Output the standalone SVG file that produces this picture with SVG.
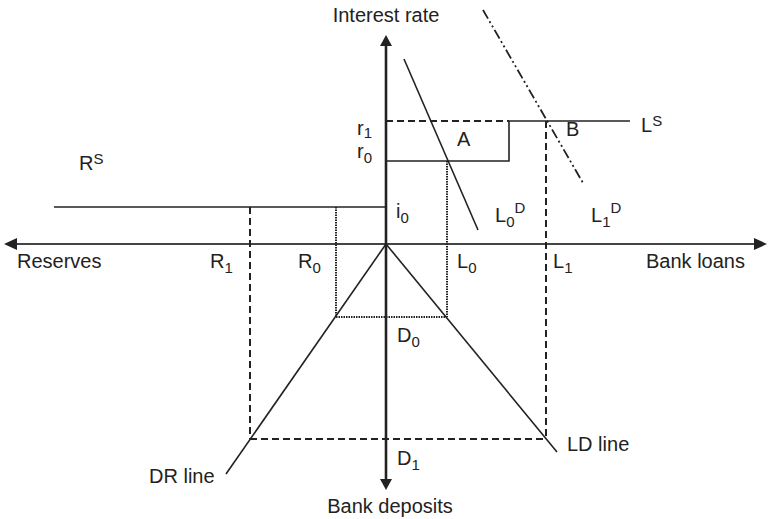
<svg xmlns="http://www.w3.org/2000/svg" width="769" height="519" viewBox="0 0 769 519">
<style>
text{font-family:"Liberation Sans",Arial,sans-serif;font-size:20px;fill:#222}
.s{font-size:15px}
.ln{stroke:#222;stroke-width:1.6;fill:none}
.ax{stroke:#222;stroke-width:2.6;fill:none}
.hax{stroke:#444;stroke-width:2;fill:none}
.da{stroke:#222;stroke-width:2;fill:none;stroke-dasharray:7 4}
.dt{stroke:#222;stroke-width:2;fill:none;stroke-dasharray:1.5 1}
.dd{stroke:#222;stroke-width:1.8;fill:none;stroke-dasharray:10 3 2 3 2 3}
.ah{fill:#222}
</style>
<rect width="769" height="519" fill="#fff"/>
<g id="axes">
<line class="hax" x1="14" y1="244" x2="758" y2="244"/>
<line class="ax" x1="386" y1="42" x2="386" y2="482"/>
<polygon class="ah" points="386,35 380,46 392,46"/>
<polygon class="ah" points="386,490 380,479 392,479"/>
<polygon class="ah" points="4,244 17,238 17,250"/>
<polygon class="ah" points="767,244 754,238 754,250"/>
</g>
<g id="connectors">
<line class="da" x1="386" y1="121" x2="509" y2="121"/>
<polyline class="ln" points="509,121 630,121"/>
<polyline class="ln" points="386,161 509,161 509,121"/>
<line class="ln" x1="404" y1="59" x2="478" y2="230"/>
<line class="dd" x1="483" y1="10" x2="583" y2="183"/>
<line class="ln" x1="54" y1="207" x2="386" y2="207"/>
<line class="da" x1="546" y1="121" x2="546" y2="439"/>
<line class="da" x1="250" y1="207" x2="250" y2="439"/>
<line class="da" x1="250" y1="439" x2="546" y2="439"/>
<line class="dt" x1="447" y1="161" x2="447" y2="317"/>
<line class="dt" x1="336" y1="207" x2="336" y2="317"/>
<line class="dt" x1="336" y1="317" x2="447" y2="317"/>
<line class="ln" x1="386" y1="244" x2="226" y2="474"/>
<line class="ln" x1="386" y1="244" x2="557" y2="452"/>
</g>
<g id="labels">
<text x="386" y="22" text-anchor="middle">Interest rate</text>
<text x="17" y="268">Reserves</text>
<text x="646" y="268">Bank loans</text>
<text x="390" y="513" text-anchor="middle">Bank deposits</text>
<text x="79" y="170">R<tspan class="s" dy="-6">S</tspan></text>
<text x="357" y="135">r<tspan class="s" dy="3">1</tspan></text>
<text x="357" y="158">r<tspan class="s" dy="5">0</tspan></text>
<text x="457" y="146">A</text>
<text x="566" y="136">B</text>
<text x="641" y="132">L<tspan class="s" dy="-6">S</tspan></text>
<text x="396" y="218">i<tspan class="s" dy="5">0</tspan></text>
<text x="495" y="222">L<tspan class="s" dy="5">0</tspan><tspan class="s" dy="-14">D</tspan></text>
<text x="591" y="222">L<tspan class="s" dy="5">1</tspan><tspan class="s" dy="-14">D</tspan></text>
<text x="210" y="268">R<tspan class="s" dy="5">1</tspan></text>
<text x="298" y="268">R<tspan class="s" dy="5">0</tspan></text>
<text x="457" y="268">L<tspan class="s" dy="5">0</tspan></text>
<text x="553" y="268">L<tspan class="s" dy="5">1</tspan></text>
<text x="397" y="342">D<tspan class="s" dy="5">0</tspan></text>
<text x="397" y="465">D<tspan class="s" dy="5">1</tspan></text>
<text x="567" y="451">LD line</text>
<text x="149" y="483">DR line</text>
</g>
</svg>
